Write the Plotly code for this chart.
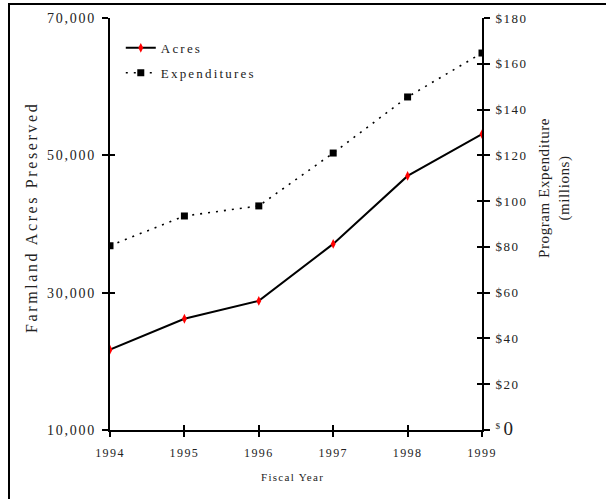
import plotly.graph_objects as go

years = [1994, 1995, 1996, 1997, 1998, 1999]
acres = [21700, 26200, 28800, 37100, 47000, 53100]
expenditures = [80.5, 93.5, 97.9, 121.0, 145.5, 164.7]

year_labels = ["1994", "1995", "1996", "1997", "1998", "1999"]
left_ticks = [10000, 30000, 50000, 70000]
left_labels = ["10,000", "30,000", "50,000", "70,000"]
right_ticks = [0, 20, 40, 60, 80, 100, 120, 140, 160, 180]
right_labels = ["$ 0", "$20", "$40", "$60", "$80", "$100", "$120", "$140", "$160", "$180"]

FONT = "Liberation Serif, Times New Roman, serif"
TXT = "#222"


def sp(text, px):
    return f"<span style='letter-spacing:{px}px'>{text}</span>"


def right_fmt(t):
    if t == "$ 0":
        return "<sup>$</sup> <span style='font-size:19px'>0</span>"
    return sp(t, 1.5)


fig = go.Figure()
fig.add_trace(go.Scatter(
    x=years, y=acres, name=sp("Acres", 2.2), mode="lines+markers", legendgroup="a",
    line=dict(color="black", width=2),
    marker=dict(symbol="diamond-tall", color="red", size=7, line=dict(width=0)),
    yaxis="y"))
fig.add_trace(go.Scatter(
    x=years, y=expenditures, name=sp("Expenditures", 2.2), mode="lines+markers",
    legendgroup="b",
    line=dict(color="black", width=1.6, dash="2px,6px"),
    marker=dict(symbol="square", color="black", size=7),
    yaxis="y2"))

# invisible helper traces so the overlaid "inside" tick axes are drawn (crossing ticks)
for xa, ya, yv in [("x", "y3", acres), ("x", "y4", expenditures), ("x2", "y", acres)]:
    fig.add_trace(go.Scatter(x=years, y=yv, xaxis=xa, yaxis=ya, mode="lines",
                             line=dict(width=0, color="rgba(0,0,0,0)"), opacity=0,
                             hoverinfo="skip", showlegend=False))

axis_common = dict(showgrid=False, zeroline=False, showline=True, linecolor="black",
                   linewidth=2, ticks="outside", tickcolor="black", tickwidth=2)
inner_common = dict(showgrid=False, zeroline=False, showline=False, ticks="inside",
                    ticklen=5, tickwidth=2, tickcolor="black", showticklabels=False)

fig.update_layout(
    width=606, height=499,
    margin=dict(l=110, r=124, t=18, b=69),
    paper_bgcolor="white", plot_bgcolor="white",
    font=dict(family=FONT, color=TXT),
    xaxis=dict(range=[1994, 1999], tickvals=years,
               ticktext=[sp(t, 1.4) for t in year_labels],
               ticklen=5, ticklabelstandoff=6,
               tickfont=dict(family=FONT, size=12, color=TXT), **axis_common),
    yaxis=dict(range=[10000, 70000], tickvals=left_ticks,
               ticktext=[sp(t, 1.8) for t in left_labels],
               ticklen=6, ticklabelstandoff=3,
               tickfont=dict(family=FONT, size=14, color=TXT), **axis_common),
    yaxis2=dict(range=[0, 180], tickvals=right_ticks,
                ticktext=[right_fmt(t) for t in right_labels],
                overlaying="y", side="right", ticklen=6, ticklabelstandoff=3,
                tickfont=dict(family=FONT, size=13, color=TXT), **axis_common),
    yaxis3=dict(range=[10000, 70000], tickvals=left_ticks, overlaying="y", side="left",
                **inner_common),
    yaxis4=dict(range=[0, 180], tickvals=right_ticks, overlaying="y", side="right",
                **inner_common),
    xaxis2=dict(range=[1994, 1999], tickvals=years, overlaying="x", side="bottom",
                **inner_common),
    showlegend=True,
    legend=dict(x=0.029, y=0.964, xanchor="left", yanchor="top",
                bgcolor="rgba(0,0,0,0)", tracegroupgap=5,
                font=dict(family=FONT, size=13, color=TXT)),
    shapes=[dict(type="rect", xref="paper", yref="paper",
                 x0=(9 - 110) / 372, x1=(620 - 110) / 372,
                 y0=(430 - 510) / 412, y1=(430 - 4) / 412,
                 line=dict(color="black", width=2), fillcolor="rgba(0,0,0,0)")],
    annotations=[
        dict(text=sp("Farmland Acres Preserved", 2.6), xref="paper", yref="paper",
             x=(31 - 110) / 372, y=(430 - 218) / 412, textangle=-90, showarrow=False,
             font=dict(family=FONT, size=16, color=TXT), xanchor="center", yanchor="middle"),
        dict(text=sp("Program Expenditure", 0.6) + "<br>" + sp("(millions)", 0.6),
             xref="paper", yref="paper",
             x=(554 - 110) / 372, y=(430 - 188) / 412, textangle=-90, showarrow=False,
             font=dict(family=FONT, size=15, color=TXT), xanchor="center", yanchor="middle"),
        dict(text=sp("Fiscal Year", 1.3), xref="paper", yref="paper",
             x=(292 - 110) / 372, y=(430 - 477) / 412, showarrow=False,
             font=dict(family=FONT, size=11, color=TXT), xanchor="center", yanchor="middle"),
    ],
)

fig.write_html("out.html", config={"displayModeBar": False},
               post_script="document.body.style.margin='0';")
